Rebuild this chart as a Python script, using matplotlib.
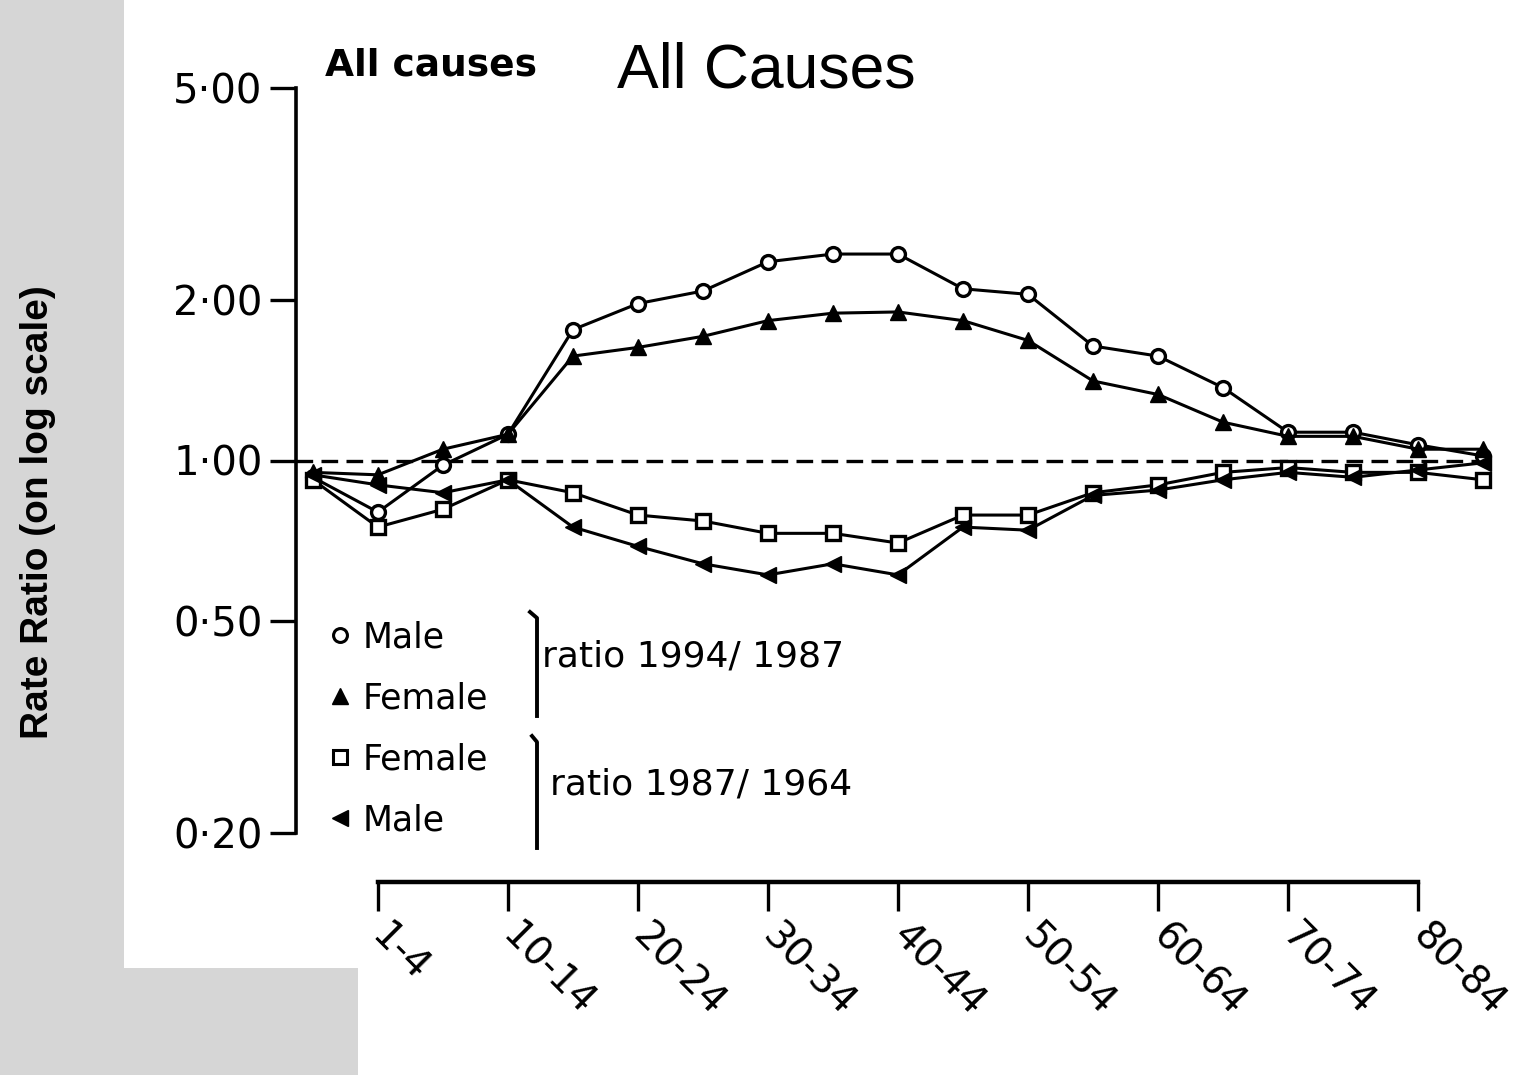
import matplotlib
matplotlib.use('Agg')
import matplotlib.pyplot as plt
from matplotlib.patches import Polygon
from matplotlib.lines import Line2D

W, H = 1522, 1075

# ---------------- data ----------------
age_groups = ['<1', '1-4', '5-9', '10-14', '15-19', '20-24', '25-29', '30-34',
              '35-39', '40-44', '45-49', '50-54', '55-59', '60-64', '65-69',
              '70-74', '75-79', '80-84', '85+']
tick_labels = ['1-4', '10-14', '20-24', '30-34', '40-44', '50-54', '60-64',
               '70-74', '80-84']
y_ticks = [0.2, 0.5, 1.0, 2.0, 5.0]
y_tick_labels = ['0·20', '0·50', '1·00', '2·00', '5·00']

male_94_87 = [0.93, 0.80, 0.98, 1.12, 1.76, 1.97, 2.08, 2.36, 2.44, 2.44,
              2.10, 2.05, 1.64, 1.57, 1.37, 1.13, 1.13, 1.07, 1.02]
female_94_87 = [0.95, 0.94, 1.05, 1.12, 1.57, 1.63, 1.71, 1.83, 1.89, 1.90,
                1.83, 1.68, 1.41, 1.33, 1.18, 1.11, 1.11, 1.05, 1.05]
female_87_64 = [0.92, 0.75, 0.81, 0.92, 0.87, 0.79, 0.77, 0.73, 0.73, 0.70,
                0.79, 0.79, 0.87, 0.90, 0.95, 0.97, 0.95, 0.95, 0.92]
male_87_64 = [0.94, 0.90, 0.87, 0.92, 0.75, 0.69, 0.64, 0.61, 0.64, 0.61,
              0.75, 0.74, 0.86, 0.88, 0.92, 0.95, 0.93, 0.96, 0.99]

# ---------------- figure ----------------
fig = plt.figure(figsize=(W / 100, H / 100), dpi=100, facecolor='#d6d6d6')


def fx(px):
    return px / W


def fy(py):
    return 1 - py / H


panel = Polygon([(fx(124), fy(0)), (fx(1522), fy(0)), (fx(1522), fy(1075)),
                 (fx(358), fy(1075)), (fx(358), fy(968)), (fx(124), fy(968))],
                closed=True, transform=fig.transFigure, facecolor='white',
                edgecolor='none', zorder=-10)
fig.patches.append(panel)

ax = fig.add_axes([fx(296), fy(833), (1500 - 296) / W, (833 - 88) / H])
ax.set_zorder(5)
ax.set_facecolor('none')
ax.set_yscale('log')
ax.set_ylim(0.2, 5)
ax.set_xlim(-0.26, 18.26)

x = list(range(len(age_groups)))
lw = 2.2
ax.hlines(1.0, ax.get_xlim()[0], len(age_groups) - 1, colors='black',
          linestyles=(0, (5, 2.5)), linewidth=2.4, zorder=2)

ax.plot(x, male_94_87, color='black', lw=lw, marker='o', ms=10,
        mfc='white', mec='black', mew=2.4, zorder=4)
ax.plot(x, female_94_87, color='black', lw=lw, marker='^', ms=11,
        mfc='black', mec='black', zorder=4)
ax.plot(x, female_87_64, color='black', lw=lw, marker='s', ms=10,
        mfc='white', mec='black', mew=2.4, zorder=4)
ax.plot(x, male_87_64, color='black', lw=lw, marker='<', ms=11,
        mfc='black', mec='black', zorder=4)

# spines
for s in ['top', 'right']:
    ax.spines[s].set_visible(False)
ax.spines['left'].set_linewidth(2.6)
ax.spines['bottom'].set_linewidth(3.2)
ax.spines['bottom'].set_position(('outward', 35))
tick_pos = [age_groups.index(t) for t in tick_labels]
ax.spines['bottom'].set_bounds(tick_pos[0], tick_pos[-1])

ax.set_yticks(y_ticks)
ax.set_yticklabels(y_tick_labels)
ax.minorticks_off()
ax.tick_params(axis='y', direction='out', length=19, width=2.4, pad=5,
               labelsize=29)
ax.set_xticks(tick_pos)
ax.set_xticklabels(tick_labels, rotation=-45, ha='left', va='center',
                   rotation_mode='anchor', fontsize=28)
ax.tick_params(axis='x', direction='out', length=21, width=2.4, pad=14)

# legend
handles = [
    Line2D([], [], ls='none', marker='o', ms=10, mfc='white', mec='black', mew=2.2),
    Line2D([], [], ls='none', marker='^', ms=11, mfc='black', mec='black'),
    Line2D([], [], ls='none', marker='s', ms=10, mfc='white', mec='black', mew=2.2),
    Line2D([], [], ls='none', marker='<', ms=11, mfc='black', mec='black'),
]
labels = ['Male', 'Female', 'Female', 'Male']
leg = fig.legend(handles, labels, loc='upper left',
                 bbox_to_anchor=(fx(330), fy(620)), frameon=False,
                 fontsize=25, handlelength=0.6, handletextpad=0.35,
                 labelspacing=0.78, borderpad=0, borderaxespad=0)
for t in leg.get_texts():
    t.set_fontweight('medium')

# brackets
fig.add_artist(Line2D([fx(530), fx(537), fx(537)], [fy(612), fy(618), fy(716)],
                      transform=fig.transFigure, color='black', lw=2.8))
fig.add_artist(Line2D([fx(532), fx(537), fx(537)], [fy(736), fy(742), fy(848)],
                      transform=fig.transFigure, color='black', lw=2.8))
fig.text(fx(542), fy(657), 'ratio 1994/ 1987', fontsize=26, ha='left',
         va='center')
fig.text(fx(550), fy(785), 'ratio 1987/ 1964', fontsize=26, ha='left',
         va='center')

# titles
fig.text(fx(617), fy(87), 'All Causes', fontsize=45, family='Liberation Sans',
         ha='left', va='baseline')
fig.text(fx(325), fy(76), 'All causes', fontsize=27, fontweight='bold',
         ha='left', va='baseline')
fig.text(fx(38), fy(512), 'Rate Ratio (on log scale)', fontsize=28,
         fontweight='bold', family='Liberation Sans', rotation=90,
         ha='center', va='center')

fig.savefig('out.png', dpi=100, facecolor=fig.get_facecolor())
